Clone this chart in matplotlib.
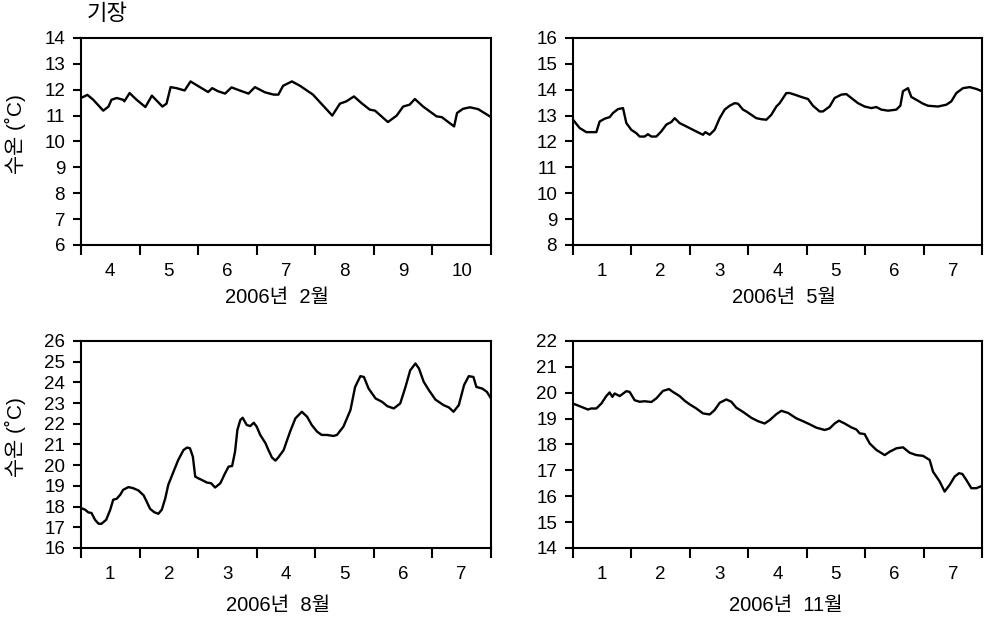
import matplotlib
matplotlib.use("Agg")
import matplotlib.pyplot as plt
from matplotlib.ticker import FixedLocator, NullFormatter, FixedFormatter

plt.rcParams['font.family'] = ['Liberation Sans', 'Noto Sans CJK KR']

# days since the left edge of each panel, and water temperature (C)
feb_t = [0, 0.11, 0.21, 0.38, 0.47, 0.52, 0.61, 0.72, 0.74, 0.83, 0.95, 1.10, 1.21, 1.39,
         1.46, 1.53, 1.63, 1.77, 1.87, 2.03, 2.17, 2.24, 2.34, 2.46, 2.57, 2.71, 2.86, 2.97,
         3.14, 3.29, 3.37, 3.45, 3.60, 3.74, 3.96, 4.29, 4.42, 4.53, 4.66, 4.79, 4.93, 5.02,
         5.24, 5.39, 5.50, 5.61, 5.70, 5.84, 6.07, 6.16, 6.37, 6.42, 6.52, 6.64, 6.78, 6.98]
feb_v = [11.68, 11.8, 11.61, 11.19, 11.35, 11.61, 11.68, 11.61, 11.55, 11.87, 11.61, 11.33,
         11.77, 11.35, 11.46, 12.1, 12.06, 11.97, 12.32, 12.1, 11.91, 12.06, 11.94, 11.85,
         12.09, 11.97, 11.85, 12.1, 11.9, 11.81, 11.81, 12.15, 12.32, 12.15, 11.81, 11.0,
         11.46, 11.55, 11.74, 11.48, 11.23, 11.19, 10.75, 11.0, 11.35, 11.42, 11.64, 11.35,
         10.97, 10.94, 10.58, 11.1, 11.26, 11.32, 11.25, 10.97]

may_t = [0, 0.114, 0.228, 0.40, 0.456, 0.542, 0.627, 0.685, 0.770, 0.856, 0.913, 0.998,
         1.084, 1.141, 1.226, 1.283, 1.341, 1.426, 1.512, 1.597, 1.683, 1.740, 1.825, 1.940,
         2.054, 2.168, 2.225, 2.265, 2.339, 2.424, 2.510, 2.596, 2.681, 2.767, 2.824, 2.909,
         2.966, 3.052, 3.137, 3.223, 3.309, 3.394, 3.480, 3.537, 3.651, 3.708, 3.793, 3.907,
         4.022, 4.107, 4.221, 4.278, 4.392, 4.478, 4.592, 4.678, 4.763, 4.877, 4.991, 5.106,
         5.191, 5.277, 5.391, 5.533, 5.602, 5.647, 5.733, 5.790, 5.876, 5.990, 6.075, 6.246,
         6.389, 6.475, 6.560, 6.674, 6.788, 6.902, 7.0]
may_v = [12.84, 12.52, 12.36, 12.36, 12.77, 12.88, 12.94, 13.10, 13.25, 13.29, 12.71, 12.45,
         12.32, 12.19, 12.19, 12.28, 12.19, 12.19, 12.39, 12.65, 12.75, 12.90, 12.71, 12.58,
         12.45, 12.32, 12.26, 12.36, 12.26, 12.45, 12.90, 13.23, 13.38, 13.48, 13.46, 13.23,
         13.16, 13.03, 12.90, 12.86, 12.84, 13.03, 13.35, 13.48, 13.87, 13.87, 13.81, 13.72,
         13.64, 13.38, 13.16, 13.16, 13.35, 13.68, 13.81, 13.83, 13.68, 13.48, 13.35, 13.29,
         13.33, 13.23, 13.19, 13.23, 13.38, 13.94, 14.06, 13.72, 13.61, 13.46, 13.38, 13.35,
         13.42, 13.55, 13.87, 14.06, 14.10, 14.03, 13.94]

aug_t = [0, 0.07, 0.125, 0.18, 0.24, 0.30, 0.35, 0.43, 0.50, 0.55, 0.61, 0.67, 0.72, 0.81,
         0.89, 0.98, 1.07, 1.12, 1.18, 1.25, 1.32, 1.38, 1.44, 1.49, 1.58, 1.66, 1.75, 1.81,
         1.86, 1.91, 1.95, 2.0, 2.06, 2.15, 2.22, 2.29, 2.38, 2.46, 2.52, 2.58, 2.63, 2.67,
         2.72, 2.76, 2.83, 2.89, 2.95, 3.0, 3.06, 3.15, 3.20, 3.26, 3.32, 3.37, 3.46, 3.52,
         3.57, 3.66, 3.77, 3.86, 3.94, 4.03, 4.11, 4.20, 4.31, 4.37, 4.48, 4.60, 4.68, 4.77,
         4.83, 4.91, 5.03, 5.14, 5.23, 5.34, 5.45, 5.54, 5.62, 5.71, 5.77, 5.85, 5.94, 6.05,
         6.19, 6.28, 6.36, 6.45, 6.54, 6.62, 6.70, 6.75, 6.85, 6.93, 7.0]
aug_v = [17.93, 17.85, 17.72, 17.69, 17.36, 17.17, 17.17, 17.36, 17.85, 18.33, 18.38, 18.57,
         18.81, 18.94, 18.89, 18.78, 18.54, 18.25, 17.89, 17.73, 17.65, 17.85, 18.41, 19.05,
         19.69, 20.25, 20.73, 20.85, 20.82, 20.41, 19.45, 19.37, 19.29, 19.16, 19.13, 18.92,
         19.13, 19.61, 19.93, 19.96, 20.65, 21.70, 22.18, 22.29, 21.94, 21.89, 22.05, 21.86,
         21.46, 21.06, 20.73, 20.37, 20.22, 20.38, 20.73, 21.22, 21.62, 22.26, 22.58, 22.34,
         21.94, 21.62, 21.46, 21.46, 21.41, 21.46, 21.86, 22.66, 23.78, 24.30, 24.26, 23.70,
         23.22, 23.06, 22.85, 22.74, 22.98, 23.78, 24.58, 24.91, 24.67, 24.03, 23.62, 23.17,
         22.90, 22.79, 22.58, 22.90, 23.87, 24.30, 24.26, 23.78, 23.70, 23.54, 23.22]

nov_t = [0, 0.114, 0.257, 0.31, 0.40, 0.485, 0.57, 0.627, 0.673, 0.713, 0.80, 0.913, 0.97,
         1.055, 1.141, 1.226, 1.341, 1.426, 1.54, 1.643, 1.711, 1.825, 1.911, 1.997, 2.111,
         2.225, 2.339, 2.424, 2.51, 2.624, 2.71, 2.795, 2.909, 3.052, 3.166, 3.28, 3.366,
         3.48, 3.565, 3.68, 3.822, 3.936, 4.05, 4.164, 4.307, 4.392, 4.478, 4.552, 4.649,
         4.763, 4.849, 4.906, 4.991, 5.077, 5.191, 5.334, 5.42, 5.533, 5.647, 5.761, 5.876,
         5.99, 6.104, 6.161, 6.275, 6.36, 6.446, 6.532, 6.606, 6.663, 6.731, 6.817, 6.902, 7.0]
nov_v = [19.58, 19.48, 19.35, 19.39, 19.39, 19.58, 19.87, 20.01, 19.84, 19.97, 19.87, 20.06,
         20.03, 19.71, 19.65, 19.67, 19.64, 19.78, 20.07, 20.14, 20.03, 19.87, 19.69, 19.55,
         19.39, 19.20, 19.16, 19.33, 19.61, 19.74, 19.65, 19.42, 19.26, 19.03, 18.90, 18.81,
         18.94, 19.17, 19.30, 19.22, 19.01, 18.90, 18.78, 18.65, 18.56, 18.62, 18.81, 18.92,
         18.81, 18.66, 18.58, 18.43, 18.40, 18.04, 17.79, 17.59, 17.72, 17.85, 17.89, 17.68,
         17.59, 17.56, 17.40, 16.95, 16.57, 16.18, 16.44, 16.76, 16.89, 16.86, 16.63, 16.31,
         16.31, 16.40]

feb_days = ['4', '5', '6', '7', '8', '9', '10']
week_days = ['1', '2', '3', '4', '5', '6', '7']

panels = [
    (feb_t, feb_v, (6, 14), feb_days, '2006년  2월', [0.0823, 0.6036, 0.4167, 0.3350], 277, 297),
    (may_t, may_v, (8, 16), week_days, '2006년  5월', [0.5823, 0.6036, 0.4157, 0.3350], 784, 297),
    (aug_t, aug_v, (16, 26), week_days, '2006년  8월', [0.0823, 0.1133, 0.4167, 0.3350], 278, 606),
    (nov_t, nov_v, (14, 22), week_days, '2006년  11월', [0.5823, 0.1133, 0.4157, 0.3350], 786, 606),
]

fig = plt.figure(figsize=(9.84, 6.18), dpi=100)

for t, v, ylim, days, xlabel, rect, lx, ly in panels:
    ax = fig.add_axes(rect)
    ax.plot(t, v, color='black', lw=1.7)
    ax.set_xlim(0, 7)
    ax.set_ylim(*ylim)
    ax.set_yticks(range(ylim[0], ylim[1] + 1))
    ax.xaxis.set_major_locator(FixedLocator(range(8)))
    ax.xaxis.set_major_formatter(NullFormatter())
    ax.xaxis.set_minor_locator(FixedLocator([i + 0.5 for i in range(7)]))
    ax.xaxis.set_minor_formatter(FixedFormatter(days))
    ax.tick_params(axis='x', which='major', length=7, width=1.5, direction='out')
    ax.tick_params(axis='x', which='minor', length=0, pad=13, labelsize=13.5)
    ax.tick_params(axis='y', length=6, width=1.5, direction='out', pad=5.5, labelsize=13.5)
    for s in ax.spines.values():
        s.set_linewidth(1.5)
    fig.text(lx / 984, 1 - ly / 618, xlabel, ha='center', va='center', fontsize=14.5)

fig.text(87 / 984, 1 - 15 / 618, '기장', ha='left', va='center', fontsize=16)
fig.text(15 / 984, 1 - 134 / 618, '수온 (˚C)', rotation=90, ha='center', va='center', fontsize=15)
fig.text(15 / 984, 1 - 437 / 618, '수온 (˚C)', rotation=90, ha='center', va='center', fontsize=15)

fig.savefig('out.png', dpi=100)
